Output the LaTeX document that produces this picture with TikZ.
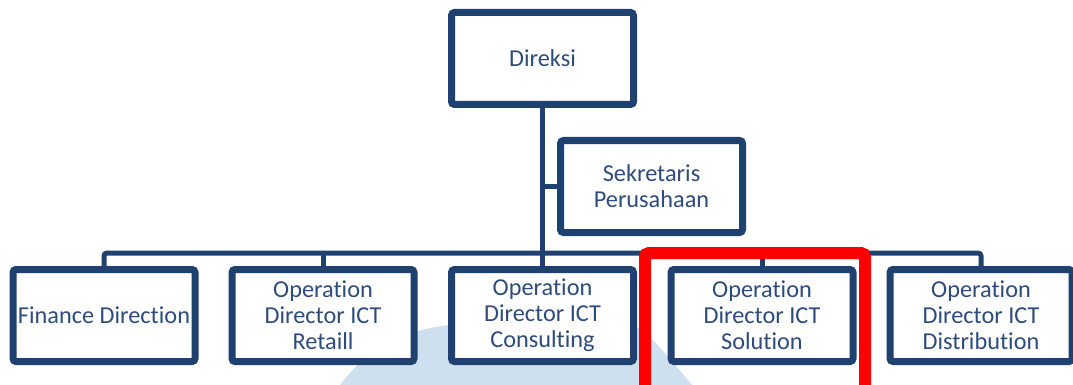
\documentclass[tikz,border=0pt]{standalone}
\usepackage{fontspec}
\setmainfont{Carlito}[Ligatures=NoCommon]
\usetikzlibrary{shadows}
\definecolor{navy}{RGB}{31,65,112}
\definecolor{txtblue}{RGB}{45,76,124}
\definecolor{wmblue}{RGB}{206,223,239}
\definecolor{hlred}{RGB}{255,0,0}
\begin{document}
\begin{tikzpicture}[x=1pt,y=-1pt,
  orgbox/.style={draw=navy, line width=7pt, fill=white, rounded corners=3pt,
    minimum width=182pt, minimum height=92pt, inner sep=0pt, align=center,
    text=txtblue, font=\fontsize{24.3}{26}\selectfont,
    drop shadow={shadow xshift=2pt, shadow yshift=-3pt, opacity=0.25, fill=gray}},
  conn/.style={draw=navy, line width=5pt, rounded corners=3pt},
  hlbox/.style={draw=hlred, line width=12pt, rounded corners=4pt}]
\useasboundingbox (0,0) rectangle (1073,385);
\clip (0,0) rectangle (1073,385);
% faint watermark shape
\fill[wmblue] (335,392) .. controls (375,335) and (420,322) .. (510,322)
  -- (615,322) .. controls (640,322) and (650,335) .. (698,392) -- cycle;
% nodes
\node[orgbox] (dir) at (542.5,58.5) {Direksi};
\node[orgbox] (sek) at (651.5,186.5) {Sekretaris\\Perusahaan};
\node[orgbox] (fin) at (104,315.5) {Finance Direction};
\node[orgbox] (ret) at (323,315.5) {Operation\\Director ICT\\Retaill};
\node[orgbox] (cons) at (542.5,315.5) {Operation\\Director ICT\\Consulting};
\node[orgbox] (sol) at (762,315.5) {Operation\\Director ICT\\Solution};
\node[orgbox] (dist) at (981,315.5) {Operation\\Director ICT\\Distribution};
\coordinate (bus) at (542.5,253);
% connectors
\draw[conn] (dir.south) -- (cons.north);
\draw[conn] (sek.west) -- (sek.west -| dir.south);
\draw[conn] (fin.north) |- (bus) -| (dist.north);
\draw[conn] (ret.north) -- (ret.north |- bus);
\draw[conn] (sol.north) -- (sol.north |- bus);
% highlight
\coordinate (hlA) at (645,253);
\coordinate (hlB) at (865,400);
\draw[hlbox] (hlA) rectangle (hlB);
\end{tikzpicture}
\end{document}
